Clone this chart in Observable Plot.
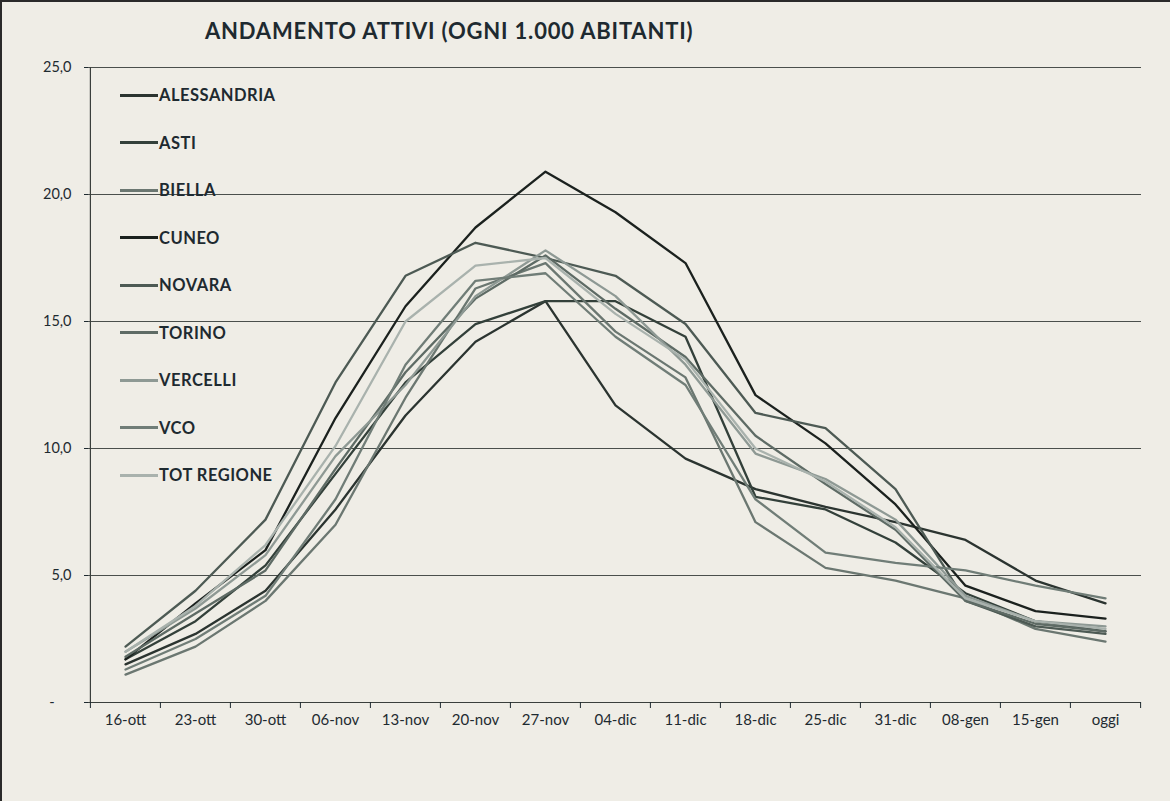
<!DOCTYPE html>
<html><head><meta charset="utf-8">
<script src="https://cdn.jsdelivr.net/npm/d3@7"></script>
<script src="https://cdn.jsdelivr.net/npm/@observablehq/plot@0.6"></script>
<style>
html,body{margin:0;padding:0;background:#efede6;}
#wrap{position:relative;width:1170px;height:801px;overflow:hidden;background:#efede6;font-family:Lato,sans-serif;box-sizing:border-box;border-left:2px solid #2a2a2a;border-top:2px solid #2a2a2a;}
#title{position:absolute;left:203px;top:15px;font-size:22px;letter-spacing:0.8px;font-weight:700;color:#1e2a30;white-space:nowrap;line-height:28px;}
#chart{position:absolute;left:-2px;top:48px;}
.leg{position:absolute;left:118px;height:20px;display:flex;align-items:center;}
.leg span.sw{display:inline-block;width:38px;height:3px;margin-right:1px;}
.leg span.tx{font-size:16.5px;letter-spacing:0.5px;font-weight:700;color:#1e2a30;}
</style></head>
<body>
<div id="wrap">
  <div id="title">ANDAMENTO ATTIVI (OGNI 1.000 ABITANTI)</div>
  <div id="chart"></div>
  <div id="legend"></div>
</div>
<script>
const categories = ["16-ott","23-ott","30-ott","06-nov","13-nov","20-nov","27-nov","04-dic","11-dic","18-dic","25-dic","31-dic","08-gen","15-gen","oggi"];
const seriesNames = ["ALESSANDRIA","ASTI","BIELLA","CUNEO","NOVARA","TORINO","VERCELLI","VCO","TOT REGIONE"];
const alessandria = [1.5, 2.7, 4.4, 7.6, 11.3, 14.2, 15.8, 11.7, 9.6, 8.4, 7.7, 7.1, 6.4, 4.8, 3.9];
const asti        = [1.7, 3.2, 5.4, 9.0, 12.6, 14.9, 15.8, 15.8, 14.4, 8.1, 7.6, 6.3, 4.3, 3.2, 2.8];
const biella      = [1.1, 2.2, 4.0, 7.0, 12.0, 16.3, 17.3, 14.6, 12.8, 7.1, 5.3, 4.8, 4.1, 2.9, 2.4];
const cuneo       = [1.7, 3.9, 6.0, 11.2, 15.6, 18.7, 20.9, 19.3, 17.3, 12.1, 10.2, 7.8, 4.6, 3.6, 3.3];
const novara      = [2.2, 4.4, 7.2, 12.6, 16.8, 18.1, 17.5, 16.8, 14.9, 11.4, 10.8, 8.4, 4.0, 3.0, 2.7];
const torino      = [1.8, 3.5, 5.2, 9.2, 13.0, 15.9, 17.6, 15.5, 13.6, 10.5, 8.6, 6.8, 4.0, 3.1, 2.8];
const vercelli    = [2.0, 3.7, 5.8, 9.7, 12.5, 16.0, 17.8, 16.0, 13.3, 9.8, 8.8, 7.2, 4.2, 3.2, 3.0];
const vco         = [1.3, 2.5, 4.2, 8.0, 13.3, 16.6, 16.9, 14.4, 12.5, 8.0, 5.9, 5.5, 5.2, 4.6, 4.1];
const totRegione  = [2.0, 3.8, 6.2, 10.1, 15.0, 17.2, 17.5, 15.3, 13.5, 10.0, 8.7, 6.9, 4.1, 3.2, 2.9];
const yTicks = [0, 5, 10, 15, 20, 25];
const seriesColors = ["#2b3430","#33403a","#6b7771","#1b211e","#4d5a54","#5e6b65","#8e9994","#707d77","#a9b2ad"];

const valuesBySeries = [alessandria, asti, biella, cuneo, novara, torino, vercelli, vco, totRegione];
const data = [];
seriesNames.forEach((name, i) => {
  valuesBySeries[i].forEach((v, j) => data.push({name, date: categories[j], value: v}));
});

const W = 1170, H = 751, mL = 88, mR = 29, mT = 17, mB = 99;
const bw = (W - mL - mR) / categories.length;
const fmt = d => d === 0 ? "-\u2007\u2007" : d.toFixed(1).replace(".", ",");

const chart = Plot.plot({
  width: W, height: H,
  marginLeft: mL, marginRight: mR, marginTop: mT, marginBottom: mB,
  style: {background: "transparent", fontFamily: "Lato, sans-serif", fontSize: "15px", color: "#1e2a30"},
  x: {type: "band", domain: categories, padding: 0, label: null},
  y: {domain: [0, 25], label: null},
  color: {domain: seriesNames, range: seriesColors},
  marks: [
    Plot.ruleY(yTicks.filter(d => d > 0), {stroke: "#4a4f4c", strokeWidth: 1}),
    Plot.ruleY([0], {stroke: "#3a3f3c", strokeWidth: 1.2}),
    Plot.ruleX([categories[0]], {dx: -bw / 2, stroke: "#3a3f3c", strokeWidth: 1.2}),
    Plot.axisY({ticks: yTicks, tickSize: 4, tickPadding: 13, tickFormat: fmt, fontSize: 14.5}),
    Plot.axisX({tickSize: 0, tickPadding: 12, fontSize: 15}),
    Plot.axisX({ticks: categories, tickSize: 6, tickFormat: () => "", dx: -bw / 2}),
    Plot.axisX({ticks: [categories[categories.length - 1]], tickSize: 6, tickFormat: () => "", dx: bw / 2}),
    Plot.line(data, {x: "date", y: "value", z: "name", stroke: "name", strokeWidth: 2.3, curve: "linear"})
  ]
});
document.getElementById("chart").appendChild(chart);

const legend = document.getElementById("legend");
seriesNames.forEach((name, i) => {
  const d = document.createElement("div");
  d.className = "leg";
  d.style.top = (83 + i * 47.5) + "px";
  d.innerHTML = `<span class="sw" style="background:${seriesColors[i]}"></span><span class="tx">${name}</span>`;
  legend.appendChild(d);
});
</script>
</body></html>
